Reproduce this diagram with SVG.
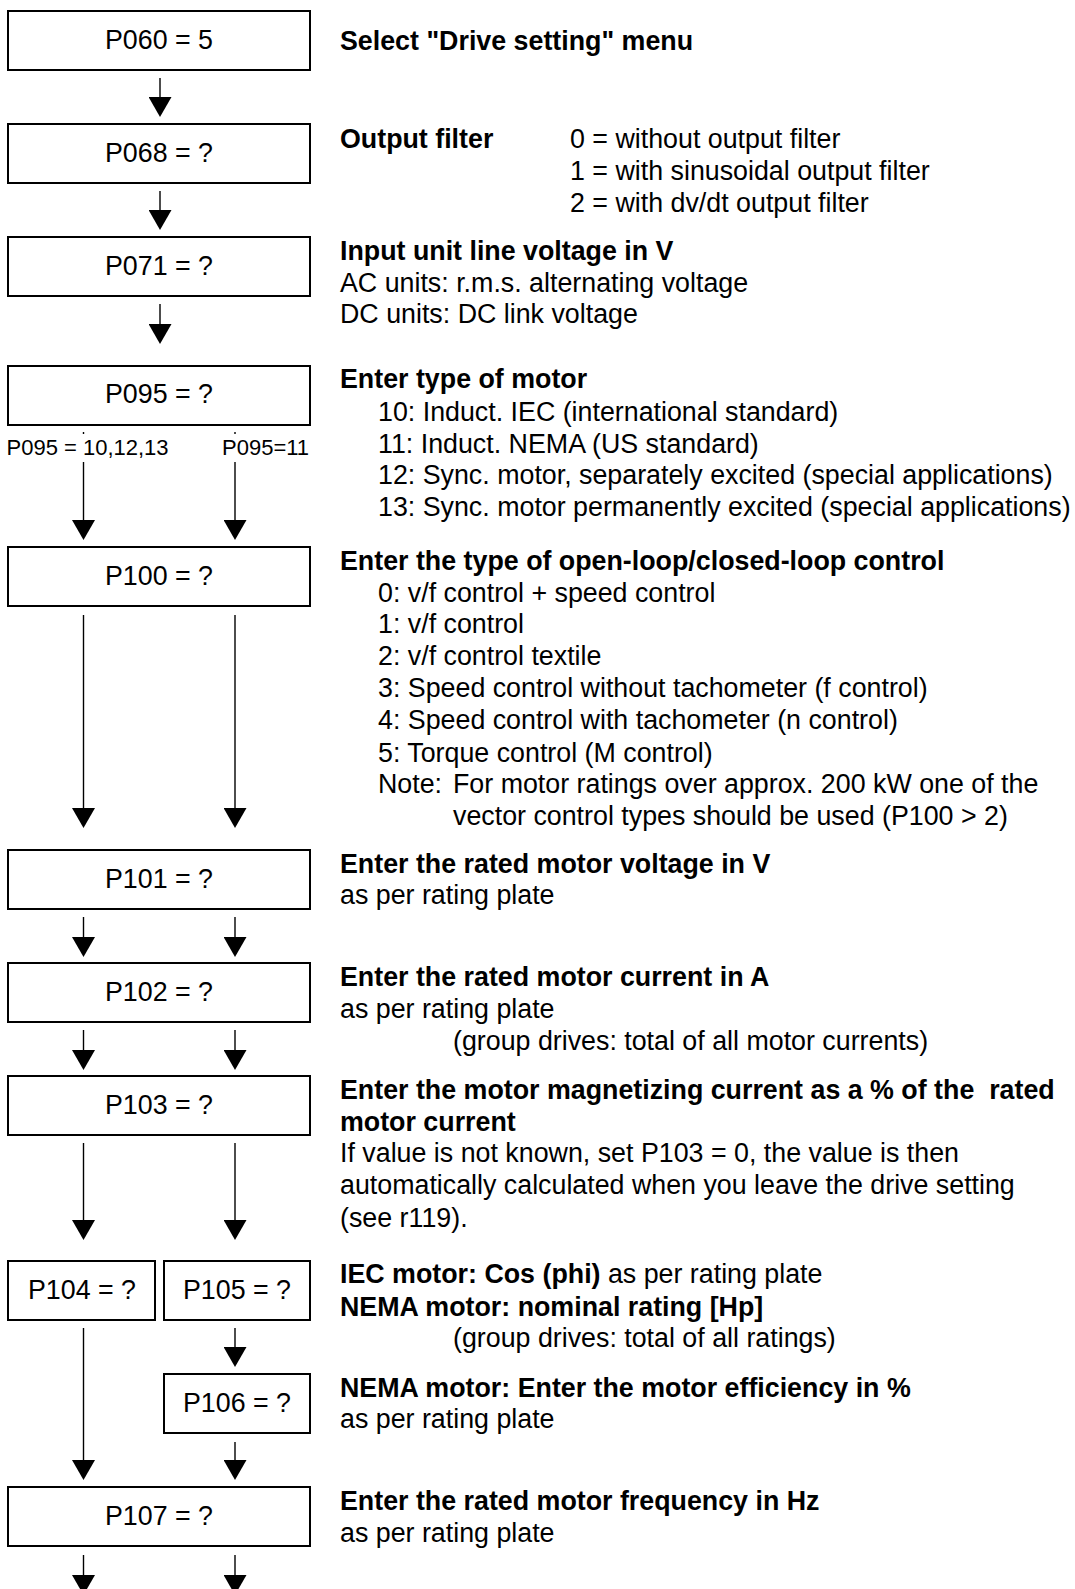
<svg xmlns="http://www.w3.org/2000/svg" width="1075" height="1589" viewBox="0 0 1075 1589">
<defs>
<style>
text{font-family:"Liberation Sans",Arial,sans-serif;fill:#000}
.bx{fill:#fff;stroke:#000;stroke-width:2}
.bt{font-size:26.8px;text-anchor:middle}
.t{font-size:26.8px}
.b{font-weight:bold}
.s{font-size:22px}
.c{stroke:#000;stroke-width:1.4;fill:none;marker-end:url(#ah)}
</style>
<marker id="ah" markerUnits="userSpaceOnUse" markerWidth="20" markerHeight="23" refX="10" refY="11.5" orient="auto">
<path d="M0,0 L20,11.5 L0,23 z" fill="#000"/>
</marker>
</defs>
<rect width="1075" height="1589" fill="#fff"/>

<g id="connectors">
<path class="c" d="M160,78 V107"/>
<path class="c" d="M160,191 V220"/>
<path class="c" d="M160,304 V334"/>
<path class="c" d="M83.5,462 V530"/>
<path class="c" d="M235,462 V530"/>
<path class="c" d="M83.5,615 V818"/>
<path class="c" d="M235,615 V818"/>
<path class="c" d="M83.5,917 V947"/>
<path class="c" d="M235,917 V947"/>
<path class="c" d="M83.5,1030 V1060"/>
<path class="c" d="M235,1030 V1060"/>
<path class="c" d="M83.5,1143 V1230"/>
<path class="c" d="M235,1143 V1230"/>
<path class="c" d="M235,1328 V1357"/>
<path class="c" d="M83.5,1328 V1470"/>
<path class="c" d="M235,1442 V1470"/>
<path class="c" d="M83.5,1555 V1585"/>
<path class="c" d="M235,1555 V1585"/>
<rect x="82.8" y="432" width="1.4" height="2" fill="#000"/>
<rect x="234.3" y="432" width="1.4" height="2" fill="#000"/>
<text class="s" x="6.5" y="455">P095 = 10,12,13</text>
<text class="s" x="222" y="455">P095=11</text>
</g>

<g id="n-p060">
<rect class="bx" x="8" y="11" width="302" height="59"/>
<text class="bt" x="159" y="49">P060 = 5</text>
<text class="t b" x="340" y="50">Select "Drive setting" menu</text>
</g>

<g id="n-p068">
<rect class="bx" x="8" y="124" width="302" height="59"/>
<text class="bt" x="159" y="162">P068 = ?</text>
<text class="t b" x="340" y="148">Output filter</text>
<text class="t" x="570" y="148">0 = without output filter</text>
<text class="t" x="570" y="180">1 = with sinusoidal output filter</text>
<text class="t" x="570" y="212">2 = with dv/dt output filter</text>
</g>

<g id="n-p071">
<rect class="bx" x="8" y="237" width="302" height="59"/>
<text class="bt" x="159" y="275">P071 = ?</text>
<text class="t b" x="340" y="260">Input unit line voltage in V</text>
<text class="t" x="340" y="292">AC units: r.m.s. alternating voltage</text>
<text class="t" x="340" y="323">DC units: DC link voltage</text>
</g>

<g id="n-p095">
<rect class="bx" x="8" y="366" width="302" height="59"/>
<text class="bt" x="159" y="403">P095 = ?</text>
<text class="t b" x="340" y="388">Enter type of motor</text>
<text class="t" x="378" y="421">10: Induct. IEC (international standard)</text>
<text class="t" x="378" y="453">11: Induct. NEMA (US standard)</text>
<text class="t" x="378" y="484">12: Sync. motor, separately excited (special applications)</text>
<text class="t" x="378" y="516">13: Sync. motor permanently excited (special applications)</text>
</g>

<g id="n-p100">
<rect class="bx" x="8" y="547" width="302" height="59"/>
<text class="bt" x="159" y="585">P100 = ?</text>
<text class="t b" x="340" y="570">Enter the type of open-loop/closed-loop control</text>
<text class="t" x="378" y="602">0: v/f control + speed control</text>
<text class="t" x="378" y="633">1: v/f control</text>
<text class="t" x="378" y="665">2: v/f control textile</text>
<text class="t" x="378" y="697">3: Speed control without tachometer (f control)</text>
<text class="t" x="378" y="729">4: Speed control with tachometer (n control)</text>
<text class="t" x="378" y="762">5: Torque control (M control)</text>
<text class="t" x="378" y="793">Note:<tspan x="453">For motor ratings over approx. 200 kW one of the</tspan></text>
<text class="t" x="453" y="825">vector control types should be used (P100 &gt; 2)</text>
</g>

<g id="n-p101">
<rect class="bx" x="8" y="850" width="302" height="59"/>
<text class="bt" x="159" y="888">P101 = ?</text>
<text class="t b" x="340" y="873">Enter the rated motor voltage in V</text>
<text class="t" x="340" y="904">as per rating plate</text>
</g>

<g id="n-p102">
<rect class="bx" x="8" y="963" width="302" height="59"/>
<text class="bt" x="159" y="1001">P102 = ?</text>
<text class="t b" x="340" y="986">Enter the rated motor current in A</text>
<text class="t" x="340" y="1018">as per rating plate</text>
<text class="t" x="453" y="1050">(group drives: total of all motor currents)</text>
</g>

<g id="n-p103">
<rect class="bx" x="8" y="1076" width="302" height="59"/>
<text class="bt" x="159" y="1114">P103 = ?</text>
<text class="t b" x="340" y="1099" xml:space="preserve">Enter the motor magnetizing current as a % of the  rated</text>
<text class="t b" x="340" y="1131">motor current</text>
<text class="t" x="340" y="1162">If value is not known, set P103 = 0, the value is then</text>
<text class="t" x="340" y="1194">automatically calculated when you leave the drive setting</text>
<text class="t" x="340" y="1227">(see r119).</text>
</g>

<g id="n-p104">
<rect class="bx" x="8" y="1261" width="147" height="59"/>
<text class="bt" x="82" y="1299">P104 = ?</text>
</g>

<g id="n-p105">
<rect class="bx" x="164" y="1261" width="146" height="59"/>
<text class="bt" x="237" y="1299">P105 = ?</text>
<text class="t" x="340" y="1283"><tspan class="b">IEC motor: Cos (phi)</tspan> as per rating plate</text>
<text class="t b" x="340" y="1316">NEMA motor: nominal rating [Hp]</text>
<text class="t" x="453" y="1347">(group drives: total of all ratings)</text>
</g>

<g id="n-p106">
<rect class="bx" x="164" y="1374" width="146" height="59"/>
<text class="bt" x="237" y="1412">P106 = ?</text>
<text class="t b" x="340" y="1397">NEMA motor: Enter the motor efficiency in %</text>
<text class="t" x="340" y="1428">as per rating plate</text>
</g>

<g id="n-p107">
<rect class="bx" x="8" y="1487" width="302" height="59"/>
<text class="bt" x="159" y="1525">P107 = ?</text>
<text class="t b" x="340" y="1510">Enter the rated motor frequency in Hz</text>
<text class="t" x="340" y="1542">as per rating plate</text>
</g>
</svg>
